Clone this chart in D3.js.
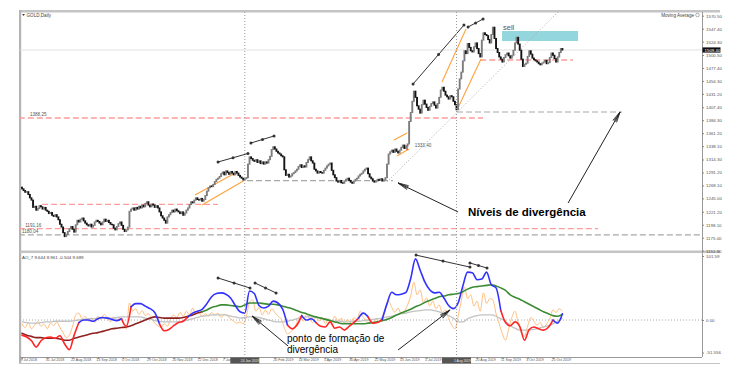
<!DOCTYPE html>
<html>
<head>
<meta charset="utf-8">
<script src="https://cdn.jsdelivr.net/npm/d3@7"></script>
<style>
  body { margin: 0; background: #fff; }
  svg { display: block; font-family: "Liberation Sans", Arial, sans-serif; }
</style>
</head>
<body>
<script>
// GOLD, Daily closes (one per bar, 9 Jul 2018 -> 1 Nov 2019)
const firstOpen = 1265;
const closes = [
  1262,1259,1256,1257,1252,1246,1242,1229,1231,1224,
  1227,1232,1230,1226,1229,1224,1222,1218,1220,1215,
  1213,1216,1212,1207,1199,1194,1184,1177,1181,1186,
  1191,1195,1190,1185,1198,1206,1203,1208,1210,1205,
  1201,1198,1196,1199,1194,1197,1203,1206,1204,1201,
  1198,1203,1208,1204,1206,1202,1199,1198,1192,1189,
  1195,1200,1203,1197,1190,1186,1189,1194,1222,1226,
  1228,1224,1229,1226,1231,1228,1233,1230,1236,1239,
  1233,1230,1235,1233,1229,1232,1228,1221,1214,1210,
  1206,1201,1212,1216,1220,1224,1221,1226,1223,1221,
  1218,1221,1215,1219,1224,1228,1234,1239,1237,1242,
  1246,1243,1242,1245,1240,1243,1250,1258,1264,1267,
  1266,1270,1275,1279,1281,1284,1289,1292,1287,1294,
  1291,1288,1293,1290,1287,1293,1290,1286,1283,1281,
  1278,1280,1282,1306,1319,1316,1313,1311,1314,1309,
  1312,1307,1310,1306,1310,1308,1314,1320,1332,1337,
  1333,1329,1326,1324,1321,1319,1296,1286,1288,1283,
  1285,1289,1291,1294,1297,1302,1305,1300,1303,1301,
  1309,1314,1319,1312,1308,1297,1294,1290,1293,1291,
  1290,1295,1299,1303,1306,1308,1295,1287,1282,1276,
  1274,1277,1273,1272,1276,1279,1281,1277,1274,1272,
  1276,1279,1281,1285,1288,1290,1294,1297,1299,1289,
  1283,1280,1276,1274,1276,1279,1277,1280,1276,1278,
  1282,1306,1324,1328,1331,1327,1333,1329,1326,1331,
  1336,1340,1334,1338,1342,1382,1398,1418,1436,1425,
  1410,1404,1397,1412,1420,1413,1407,1402,1409,1414,
  1417,1411,1406,1414,1425,1438,1443,1436,1429,1426,
  1422,1428,1426,1418,1412,1403,1440,1458,1470,1490,
  1508,1503,1521,1514,1508,1506,1515,1522,1512,1503,
  1497,1527,1540,1537,1535,1528,1522,1537,1550,1530,
  1512,1505,1497,1493,1488,1496,1501,1504,1499,1495,
  1500,1509,1522,1532,1520,1509,1493,1480,1484,1486,
  1498,1508,1502,1495,1492,1490,1488,1485,1483,1486,
  1488,1491,1485,1487,1496,1504,1500,1494,1488,1497,
  1505,1512,1509.4
];
const lastPrice = 1509.4;

// AO_7 indicator, sampled every 3 bars (fast, slow, signal) and every 2 bars (osc)
const aoStep = 3, oscStep = 2;
const aoFast = [
  -24,-27,-33,-43,-33,-28,-27,-29,-25,-38,
  -47,-24,-4,0,0,-2,2,4,3,1,
  -1,2,-10,21,26,26,22,18,12,-6,
  -17,-15,-9,-4,-2,5,11,14,17,26,
  37,42,43,41,35,23,13,11,46,42,
  23,19,22,30,27,17,-8,-14,-8,7,
  0,2,-4,-10,-11,-3,-13,-11,-16,-10,
  -4,3,11,5,-5,-4,1,26,44,40,
  41,44,66,97,79,60,48,43,44,35,
  23,18,27,54,76,75,64,65,76,56,
  51,15,-4,-9,-3,-10,-32,-15,-11,-14,
  -16,-12,0,-5,10
];
const aoSlow = [
  -21,-24,-26,-28,-28,-29,-29,-29,-30,-32,
  -32,-29,-27,-25,-23,-21,-20,-18,-16,-14,
  -13,-12,-11,-9,-6,-3,0,3,5,4,
  3,3,3,3,4,6,8,11,13,16,
  20,22,24,24,23,22,21,24,27,27,
  27,26,25,25,24,22,20,18,15,12,
  10,7,5,3,1,-1,-3,-5,-6,-6,
  -6,-6,-6,-5,-4,-3,-1,1,4,8,
  11,14,17,21,24,28,31,34,37,38,
  40,41,42,45,49,52,53,54,55,56,
  54,51,47,40,36,33,29,25,21,17,
  13,10,7,6,9
];
const aoSignal = [
  -3,-4,-5,-5,-4,-3,-3,-2,-2,-2,
  -2,-1,0,1,2,2,3,3,3,3,
  4,5,5,5,5,5,3,2,-1,-2,
  -3,-3,-3,-3,-2,0,2,4,6,7,
  8,8,8,8,6,5,3,4,5,5,
  4,2,0,-2,-3,-3,-2,0,2,4,
  5,5,4,3,2,0,-2,-2,-3,-3,
  -2,-2,-1,0,1,2,3,5,6,8,
  10,11,13,14,15,16,16,15,13,10,
  7,3,-3,-3,2,5,7,8,8,8,
  6,2,-2,-9,-13,-16,-16,-16,-15,-13,
  -11,-9,-6,-2,3
];
const aoOsc = [
  -6,-12,-4,-14,-8,-2,-10,-6,-14,-5,
  -9,-3,-12,-20,-28,-24,-10,8,11,2,
  6,-2,4,-4,6,1,9,3,-3,5,
  -2,4,-6,-14,27,14,18,9,15,7,
  10,3,-5,-9,-12,-6,-10,2,8,4,
  12,6,14,8,19,9,13,5,10,6,
  12,8,11,4,9,6,2,-2,-5,-3,
  -6,6,28,32,14,20,8,16,9,18,
  12,6,2,-12,-22,-19,-14,-4,6,-2,
  9,2,-4,6,-2,4,-6,2,-4,6,
  -3,3,-5,1,-4,4,0,14,4,-2,
  3,-6,2,-4,6,16,30,20,12,19,
  10,14,24,38,60,40,48,28,35,22,
  30,18,24,12,16,2,-8,-14,6,30,
  52,34,40,22,30,14,43,26,34,32,
  10,-6,-22,-32,-14,4,14,-4,-20,-26,
  -10,4,-2,-8,-4,-12,-6,2,16,12,
  18,14
];
const aoLegend = "AO_7 9.644 8.961 -0.504 9.689";
const fastBearSpans = [[0,35],[64,68],[86,104],[167,176],[187,214],[219,228],[302,336]];
const slowBearSpans = [[0,113]];

// axes
const dateLabels = ["9 Jul 2018","31 Jul 2018","22 Aug 2018","13 Sep 2018","5 Oct 2018","29 Oct 2018",
  "20 Nov 2018","12 Dec 2018","7 Jan 2019","29 Jan 2019","20 Feb 2019","14 Mar 2019","5 Apr 2019",
  "30 Apr 2019","22 May 2019","13 Jun 2019","5 Jul 2019","29 Jul 2019","20 Aug 2019","11 Sep 2019",
  "3 Oct 2019","25 Oct 2019"];
const dateEvery = 16;
const priceTicks = [1570.50,1547.40,1524.30,1500.50,1477.40,1454.30,1431.20,1407.40,1384.30,1361.20,
  1338.10,1314.30,1291.20,1268.10,1245.00,1221.20,1198.10,1175.00,1151.90];
const aoTicks = [101.59, 0, -51.556];
const aoTickLabels = ["101.59", "0.00", "-51.556"];

// drawn objects (bar index, price / indicator value)
const vLines = [[141, "24 Jan 2019"], [275, "1 Aug 2019"]];
const pinkLevels = [[1388.25,-2,291.8],[1191.16,-2,364.6],[1234.5,12.7,124],[1491.6,290,348.7]];
const greyLevels = [[1180.04,-2,440],[1276.6,142.4,234.8],[1398.9,275.3,379.7]];
const levelLabels = [["1388,25",5,1388.25],["1191,16",2,1191.16],["1180,04",0,1180.04],["1333,40",248.5,1333.4]];
const orangeLines = [
  [[109.5,1251.1],[136.1,1292.1]], [[113.9,1233.3],[141.1,1277.8]],
  [[235.4,1349.1],[243.7,1361.5]], [[237.3,1320.6],[244.9,1333.0]],
  [[265.8,1452.4],[281,1546.8]],   [[275.3,1402.5],[290.5,1493.4]]
];
const redMark = [[243.7,1331.2],[243.7,1340.2]];
const dottedTrend = [[231,1274.2],[340.5,1580.7]];
const priceTrends = [
  [[124.1,1309.9],[143,1325.0]], [[144.9,1343.7],[159.5,1356.2]],
  [[247.5,1448.8],[279.7,1553.9]], [[282.3,1550.4],[291.8,1564.6]]
];
const aoTrends = [
  [[124.1,66.7],[144.3,50.8]], [[147.5,58.7],[160.8,42.9]],
  [[249.4,103],[283.5,84]], [[283.5,90.5],[294.3,82.5]]
];
const sellZone = [[303.8,351.9],[1525.4,1543.2]];
const priceArrows = [[[276,1220.8],[238,1272.5]], [[345.6,1236.8],[378.5,1399]]];
const aoArrows = [[[168.4,-41.3],[145.6,6.3]], [[238,-47.6],[270.9,15.9]]];

// ---------------------------------------------------------------
const width = 738, height = 387;
const left = 20, right = 702, mainTop = 12, mainBottom = 250, subTop = 253, subBottom = 357;

const svg = d3.select("body").append("svg")
    .attr("width", width)
    .attr("height", height);

const x = d3.scaleLinear().domain([0, 342]).range([22, 562.4]);
const y = d3.scaleLinear().domain([1175, 1570.5]).range([237.7, 15.7]);
const ySub = d3.scaleLinear().domain([-51.556, 101.59]).range([352.5, 256]);

const defs = svg.append("defs");
defs.append("clipPath").attr("id", "clipMain")
    .append("rect").attr("x", left).attr("y", mainTop).attr("width", right - left).attr("height", mainBottom - mainTop);
defs.append("clipPath").attr("id", "clipSub")
    .append("rect").attr("x", left).attr("y", subTop).attr("width", right - left).attr("height", subBottom - subTop);

// frame
svg.append("rect").attr("x", 19).attr("y", 10).attr("width", 701).attr("height", 2.5).attr("fill", "#c4c4c4");
svg.append("rect").attr("x", 19).attr("y", 10).attr("width", 2.2).attr("height", 354).attr("fill", "#b4b4b4");
svg.append("rect").attr("x", left).attr("y", 250.5).attr("width", 700).attr("height", 2.5).attr("fill", "#c4c4c4");
svg.append("line").attr("x1", right + 0.5).attr("x2", right + 0.5).attr("y1", mainTop).attr("y2", subBottom)
    .attr("stroke", "#999");
svg.append("line").attr("x1", left).attr("x2", right).attr("y1", subBottom + 0.5).attr("y2", subBottom + 0.5)
    .attr("stroke", "#999");
svg.append("line").attr("x1", 19).attr("x2", 720).attr("y1", 363.5).attr("y2", 363.5).attr("stroke", "#c4c4c4");

const main = svg.append("g").attr("clip-path", "url(#clipMain)");
const sub = svg.append("g").attr("clip-path", "url(#clipSub)");

// current price line
main.append("line").attr("x1", left).attr("x2", right)
    .attr("y1", y(lastPrice)).attr("y2", y(lastPrice))
    .attr("stroke", "#e2e2e2").attr("stroke-width", 1.2);

// vertical dotted lines
svg.selectAll("line.vl").data(vLines).join("line").attr("class", "vl")
    .attr("x1", d => x(d[0])).attr("x2", d => x(d[0]))
    .attr("y1", mainTop).attr("y2", subBottom)
    .attr("stroke", "#999").attr("stroke-dasharray", "1,2");

// sell zone
main.append("rect")
    .attr("x", x(sellZone[0][0])).attr("width", x(sellZone[0][1]) - x(sellZone[0][0]))
    .attr("y", y(sellZone[1][1])).attr("height", y(sellZone[1][0]) - y(sellZone[1][1]))
    .attr("fill", "#93d6dd");
main.append("text").attr("x", x(sellZone[0][0]) + 1).attr("y", y(sellZone[1][1]) - 0.8)
    .attr("font-size", 7.5).attr("fill", "#555").text("sell");

// horizontal levels
main.selectAll("line.pink").data(pinkLevels).join("line")
    .attr("x1", d => x(d[1])).attr("x2", d => x(d[2]))
    .attr("y1", d => y(d[0])).attr("y2", d => y(d[0]))
    .attr("stroke", "#ff9c9c").attr("stroke-width", 1.3).attr("stroke-dasharray", "6,3");
main.selectAll("line.grey").data(greyLevels).join("line")
    .attr("x1", d => x(d[1])).attr("x2", d => x(d[2]))
    .attr("y1", d => y(d[0])).attr("y2", d => y(d[0]))
    .attr("stroke", "#a8a8a8").attr("stroke-width", 1.2).attr("stroke-dasharray", "6,3");
main.selectAll("text.lvl").data(levelLabels).join("text")
    .attr("x", d => x(d[1])).attr("y", d => y(d[2]) - 2)
    .attr("font-size", 4.6).attr("fill", "#555").text(d => d[0]);

// trend helpers
const seg = (g, data, sy, stroke, w, dash) => g.selectAll(null).data(data).join("line")
    .attr("x1", d => x(d[0][0])).attr("y1", d => sy(d[0][1]))
    .attr("x2", d => x(d[1][0])).attr("y2", d => sy(d[1][1]))
    .attr("stroke", stroke).attr("stroke-width", w).attr("stroke-dasharray", dash || null);

seg(main, [dottedTrend], y, "#aaa", 1, "1,2");
seg(main, orangeLines, y, "#ffa238", 1.1);
seg(main, [redMark], y, "#f03030", 1.2);

// candles (bodies)
const opens = closes.map((c, i) => i === 0 ? firstOpen : closes[i - 1]);
main.append("g").selectAll("rect").data(closes).join("rect")
    .attr("x", (d, i) => x(i) - 0.95)
    .attr("width", 1.9)
    .attr("y", (d, i) => y(Math.max(d, opens[i])) - 0.5)
    .attr("height", (d, i) => Math.max(1.5, Math.abs(y(d) - y(opens[i])) + 1))
    .attr("fill", (d, i) => d >= opens[i] ? "#7c7c7c" : "#141414");

function trendsWithDots(g, data, sy) {
    seg(g, data, sy, "#333", 1);
    const pts = data.flatMap(d => [d[0], d[1], [(d[0][0] + d[1][0]) / 2, (d[0][1] + d[1][1]) / 2]]);
    g.selectAll(null).data(pts).join("circle")
        .attr("cx", d => x(d[0])).attr("cy", d => sy(d[1])).attr("r", 1.5).attr("fill", "#333");
}
trendsWithDots(main, priceTrends, y);

// indicator panel
sub.append("line").attr("x1", left).attr("x2", right).attr("y1", ySub(0)).attr("y2", ySub(0))
    .attr("stroke", "#aaa").attr("stroke-dasharray", "1,2");

const subLine = d3.line().x(d => x(d[0])).y(d => ySub(d[1])).curve(d3.curveMonotoneX);

sub.append("path")
    .attr("d", subLine(aoOsc.map((v, k) => [k * oscStep, v])))
    .attr("fill", "none").attr("stroke", "#ffbf80").attr("stroke-width", 1);
sub.append("path")
    .attr("d", subLine(aoSignal.map((v, k) => [k * aoStep, v])))
    .attr("fill", "none").attr("stroke", "#c2c2c2").attr("stroke-width", 1.3);

function colouredRuns(values, spans, bearColor, bullColor, w) {
    const inSpan = b => spans.some(s => b >= s[0] && b <= s[1]);
    const runs = [];
    let cur = null;
    for (let k = 0; k < values.length - 1; k++) {
        const c = inSpan((k + 0.5) * aoStep) ? bearColor : bullColor;
        if (!cur || cur.color !== c) {
            cur = { color: c, pts: [[k * aoStep, values[k]]] };
            runs.push(cur);
        }
        cur.pts.push([(k + 1) * aoStep, values[k + 1]]);
    }
    sub.append("g").selectAll("path").data(runs).join("path")
        .attr("d", r => subLine(r.pts))
        .attr("fill", "none").attr("stroke", r => r.color).attr("stroke-width", w)
        .attr("stroke-linecap", "round");
}
colouredRuns(aoSlow, slowBearSpans, "#8e2222", "#3c8c34", 1.6);
colouredRuns(aoFast, fastBearSpans, "#ff2626", "#3232ff", 1.6);

trendsWithDots(sub, aoTrends, ySub);

// arrows
function arrows(g, data, sy) {
    data.forEach(a => {
        const p0 = [x(a[0][0]), sy(a[0][1])], p1 = [x(a[1][0]), sy(a[1][1])];
        g.append("line").attr("x1", p0[0]).attr("y1", p0[1]).attr("x2", p1[0]).attr("y2", p1[1])
            .attr("stroke", "#222").attr("stroke-width", 1);
        const ang = Math.atan2(p0[1] - p1[1], p0[0] - p1[0]);
        [-0.2, -0.1, 0.1, 0.2].forEach(da => {
            g.append("line").attr("x1", p1[0]).attr("y1", p1[1])
                .attr("x2", p1[0] + 11 * Math.cos(ang + da)).attr("y2", p1[1] + 11 * Math.sin(ang + da))
                .attr("stroke", "#222").attr("stroke-width", 0.8);
        });
    });
}
arrows(svg, priceArrows, y);
arrows(svg, aoArrows, ySub);

// annotation texts
svg.append("text").attr("x", x(282.3)).attr("y", y(1213.7))
    .attr("font-size", 11.5).attr("font-weight", "bold").attr("fill", "#000")
    .text("Níveis de divergência");
svg.append("text").attr("x", x(167.7)).attr("y", ySub(-35))
    .attr("font-size", 10).attr("fill", "#000").text("ponto de formação de");
svg.append("text").attr("x", x(167.7)).attr("y", ySub(-52.5))
    .attr("font-size", 10).attr("fill", "#000").text("divergência");

// small labels
svg.append("path").attr("d", "M22,14 L25,14 L23.5,16 Z").attr("fill", "#444");
svg.append("text").attr("x", 26.5).attr("y", 16.5).attr("font-size", 4.6).attr("fill", "#444").text("GOLD,Daily");
svg.append("text").attr("x", 694).attr("y", 16.5).attr("text-anchor", "end")
    .attr("font-size", 4.6).attr("fill", "#444").text("Moving Average");
svg.append("circle").attr("cx", 697.5).attr("cy", 15).attr("r", 1.8).attr("fill", "none").attr("stroke", "#777").attr("stroke-width", 0.6);
svg.append("text").attr("x", 22).attr("y", 258.5).attr("font-size", 4.4).attr("fill", "#444").text(aoLegend);

// price axis
const priceAxis = d3.axisRight(y).tickValues(priceTicks).tickSize(2).tickPadding(2)
    .tickFormat(d3.format(".2f"));
const pa = svg.append("g").attr("transform", `translate(${right},0)`).call(priceAxis);
pa.select(".domain").remove();
pa.selectAll("line").attr("stroke", "#888");
pa.selectAll("text").attr("font-size", 4.4).attr("fill", "#555").attr("font-family", "Liberation Sans, Arial");
svg.append("rect").attr("x", right + 0.5).attr("y", y(lastPrice) - 2.6).attr("width", 18).attr("height", 5.2).attr("fill", "#111");
svg.append("text").attr("x", right + 2.5).attr("y", y(lastPrice) + 1.6)
    .attr("font-size", 4.4).attr("fill", "#fff").text(d3.format(".2f")(lastPrice));

// indicator axis
const aoAxis = d3.axisRight(ySub).tickValues(aoTicks).tickSize(2).tickPadding(2)
    .tickFormat((d, i) => aoTickLabels[i]);
const aa = svg.append("g").attr("transform", `translate(${right},0)`).call(aoAxis);
aa.select(".domain").remove();
aa.selectAll("line").attr("stroke", "#888");
aa.selectAll("text").attr("font-size", 4.4).attr("fill", "#555").attr("font-family", "Liberation Sans, Arial");

// date axis (labels sitting under a highlighted vertical-line date are hidden, as on the terminal)
const hiddenUnderBox = t => vLines.some(v => Math.abs(v[0] - t) < 8);
const dateAxis = d3.axisBottom(x).tickValues(dateLabels.map((d, i) => i * dateEvery)).tickSize(2).tickPadding(0.5)
    .tickFormat((d, i) => hiddenUnderBox(d) ? "" : dateLabels[i]);
const da = svg.append("g").attr("transform", `translate(0,${subBottom})`).call(dateAxis);
da.select(".domain").remove();
da.selectAll("line").attr("stroke", "#888");
da.selectAll("text").attr("text-anchor", "start").attr("dx", -2).attr("dy", "0.55em")
    .attr("font-size", 3.6).attr("fill", "#555").attr("font-family", "Liberation Sans, Arial");

// highlighted dates of the vertical lines
const hb = svg.append("g").selectAll("g").data(vLines).join("g");
hb.append("rect").attr("x", d => x(d[0]) - 14.5).attr("y", subBottom + 0.5).attr("width", 29).attr("height", 6)
    .attr("fill", "#555");
hb.append("text").attr("x", d => x(d[0]) + 14.2).attr("y", subBottom + 4.7).attr("text-anchor", "end")
    .attr("font-size", 3.3).attr("fill", "#eee").text(d => d[1]);
</script>
</body>
</html>
